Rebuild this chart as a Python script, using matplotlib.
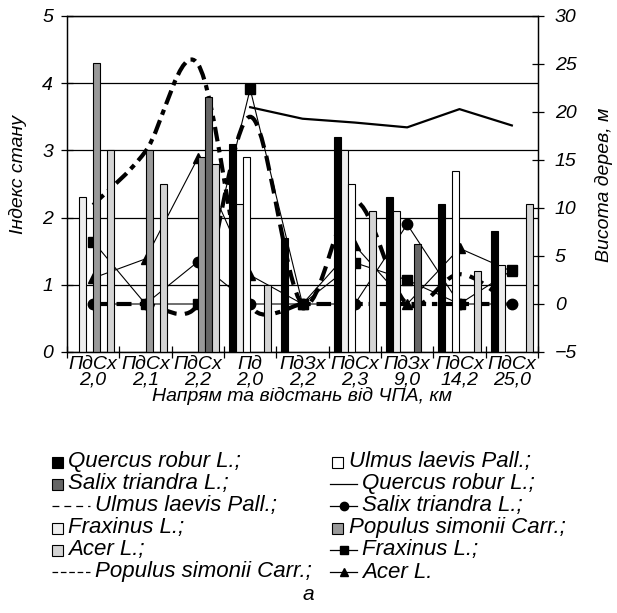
import matplotlib.pyplot as plt
import numpy as np
from matplotlib.path import Path
from matplotlib.patches import PathPatch, Rectangle
from matplotlib.lines import Line2D

plt.rcParams['font.family'] = ['Liberation Sans', 'DejaVu Sans']
plt.rcParams['font.style'] = 'italic'
plt.rcParams['font.size'] = 14

nan = np.nan

# напрям та відстань від ЧПА
sites = ['ПдСх\n2,0', 'ПдСх\n2,1', 'ПдСх\n2,2', 'Пд\n2,0', 'ПдЗх\n2,2',
         'ПдСх\n2,3', 'ПдЗх\n9,0', 'ПдСх\n14,2', 'ПдСх\n25,0']

# індекс стану (стовпчики)
quercus_idx = [nan, nan, nan, 3.1, 1.7, 3.2, 2.3, 2.2, 1.8]
fraxinus_idx = [2.3, nan, nan, 2.2, nan, 3.0, 2.1, nan, 1.3]
ulmus_idx = [nan, nan, nan, 2.9, nan, 2.5, nan, 2.7, nan]
populus_idx = [4.3, 3.0, 2.9, nan, nan, nan, nan, nan, nan]
salix_idx = [nan, nan, 3.8, nan, nan, nan, 1.6, nan, nan]
acer_idx = [3.0, 2.5, 2.8, 1.0, nan, 2.1, nan, 1.2, 2.2]

# висота дерев, м (лінії)
quercus_h = [nan, nan, nan, 20.5, 19.3, 18.9, 18.4, 20.3, 18.6]
ulmus_h = [0, 0, 0, 19.5, 0, 10.7, 0, 3.1, 0]
salix_h = [0, 0, 4.4, 0, 0, 0, 8.3, 0, 0]
fraxinus_h = [6.5, 0, 0, 22.4, 0, 4.3, 2.5, 0, 3.5]
populus_h = [10.3, 15.9, 25.0, 0, 0, 0, 0, 0, 0]
acer_h = [2.7, 4.7, 15.2, 3.0, 0, 6.1, 0, 5.8, 3.4]

x = np.arange(len(sites))

fig = plt.figure(figsize=(6.17, 6.13), dpi=100)
ax = fig.add_axes([67 / 617, 1 - 352 / 613, 471 / 617, 336 / 613])
ax2 = ax.twinx()
ax.set_zorder(ax2.get_zorder() + 1)
ax.patch.set_visible(False)

ax.set_xlim(-0.5, 8.5)
ax.set_ylim(0, 5)
ax2.set_ylim(-5, 30)


def smooth_path(xs, ys, tr):
    # згладжена лінія як в Excel: криві Безьє, контрольні точки рахуються в пікселях
    pts = tr.transform(np.column_stack([xs, ys]))
    n = len(pts)
    verts = [pts[0]]
    codes = [Path.MOVETO]
    for i in range(n - 1):
        p0, p1 = pts[max(i - 1, 0)], pts[i]
        p2, p3 = pts[i + 1], pts[min(i + 2, n - 1)]
        d12 = np.hypot(*(p2 - p1))
        d02 = np.hypot(*(p2 - p0))
        d13 = np.hypot(*(p3 - p1))
        if d02 / 6 < d12 / 2 and d13 / 6 < d12 / 2:
            f = 1 / 3 if i == 0 else 1 / 6
            b1 = p1 + (p2 - p0) * f
            f = 1 / 3 if i + 2 > n - 1 else 1 / 6
            b2 = p2 - (p3 - p1) * f
        elif d02 / 6 >= d12 / 2 and d13 / 6 >= d12 / 2:
            b1 = p1 + (p2 - p0) * d12 / 2 / d02
            b2 = p2 - (p3 - p1) * d12 / 2 / d13
        elif d02 / 6 >= d12 / 2:
            b1 = p1 + (p2 - p0) * d12 / 2 / d02
            b2 = p2 - (p3 - p1) * d12 / 2 / d02
        else:
            b1 = p1 + (p2 - p0) * d12 / 2 / d13
            b2 = p2 - (p3 - p1) * d12 / 2 / d13
        verts += [b1, b2, p2]
        codes += [Path.CURVE4] * 3
    return Path(tr.inverted().transform(np.array(verts)), codes)


# лінії висоти (права вісь)
ax2.plot(x, quercus_h, color='k', lw=1.6)
ax2.plot(x, salix_h, color='k', lw=0.8, marker='o', ms=7.5)
ax2.plot(x, fraxinus_h, color='k', lw=0.8, marker='s', ms=7.5)
ax2.plot(x, acer_h, color='k', lw=0.8, marker='^', ms=7.5)
ax2.add_patch(PathPatch(smooth_path(x, ulmus_h, ax2.transData), fill=False, edgecolor='k',
                        lw=3, ls=(0, (3.6, 2)), capstyle='butt', transform=ax2.transData))
ax2.add_patch(PathPatch(smooth_path(x, populus_h, ax2.transData), fill=False, edgecolor='k',
                        lw=3, ls=(0, (3.5, 1.4, 1.3, 1.4)), capstyle='butt',
                        transform=ax2.transData))

# стовпчики індексу стану (ліва вісь)
w = 0.134
bars = [(quercus_idx, 'black'), (fraxinus_idx, '#eeeeee'), (ulmus_idx, 'white'),
        (populus_idx, '#999999'), (salix_idx, '#666666'), (acer_idx, '#d4d4d4')]
for k, (vals, col) in enumerate(bars):
    ax.bar(x + (k - 2.5) * w, vals, width=w, color=col, edgecolor='k', lw=0.8)

ax.set_yticks(range(6))
ax2.set_yticks(range(-5, 31, 5))
ax.yaxis.grid(True, color='k', lw=0.9)
ax.set_axisbelow(True)

ax.set_xticks(np.arange(-0.5, 9, 1))
ax.set_xticklabels([])
ax.set_xticks(x, minor=True)
ax.set_xticklabels(sites, minor=True, linespacing=0.9)
ax.tick_params(axis='x', which='minor', length=0, pad=3)
ax.tick_params(axis='x', which='major', direction='inout', length=8, width=0.9)
ax.tick_params(axis='y', direction='inout', length=8, width=0.9, pad=6)
ax2.tick_params(axis='y', direction='inout', length=8, width=0.9, pad=8)
for a in (ax, ax2):
    for s in a.spines.values():
        s.set_linewidth(0.9)

ax.set_ylabel('Індекс стану')
ax.yaxis.set_label_coords(-0.085, 0.527)
ax2.set_ylabel('Висота дерев, м')
ax2.yaxis.set_label_coords(1.12, 0.497)
ax.set_xlabel('Напрям та відстань від ЧПА, км', labelpad=-1)

# легенда
lax = fig.add_axes([0, 0, 1, 1])
lax.set_xlim(0, 617)
lax.set_ylim(613, 0)
lax.axis('off')


def sq(xp, yp, col):
    lax.add_patch(Rectangle((xp, yp - 5.5), 11, 11, facecolor=col, edgecolor='k', lw=0.8))


def ln(x0, x1, yp, ls='-', marker=None):
    lax.add_line(Line2D([x0, x1], [yp, yp], color='k', lw=0.9, ls=ls))
    if marker:
        lax.plot((x0 + x1) / 2, yp, marker=marker, color='k', ms=6)


rows = [462, 484, 506, 528, 550, 572]
sq(52, rows[0], 'black')
sq(52, rows[1], '#666666')
ln(52, 90, rows[2], ls=(0, (5.5, 4)))
sq(52, rows[3], '#eeeeee')
sq(52, rows[4], '#d4d4d4')
ln(52, 90, rows[5], ls=(0, (4.5, 2.2)))
col1 = [(68, 'Quercus robur L.;'), (68, 'Salix triandra L.;'), (95, 'Ulmus laevis Pall.;'),
        (68, 'Fraxinus L.;'), (68, 'Acer L.;'), (95, 'Populus simonii Carr.;')]
for (xt, t), yp in zip(col1, rows):
    lax.text(xt, yp, t, va='center', ha='left', fontsize=16)

sq(332, rows[0], 'white')
ln(330, 357, rows[1])
ln(330, 357, rows[2], marker='o')
sq(332, rows[3], '#999999')
ln(330, 357, rows[4], marker='s')
ln(330, 357, rows[5], marker='^')
col2 = [(349, 'Ulmus laevis Pall.;'), (362, 'Quercus robur L.;'), (362, 'Salix triandra L.;'),
        (349, 'Populus simonii Carr.;'), (362, 'Fraxinus L.;'), (362, 'Acer L.')]
for (xt, t), yp in zip(col2, rows):
    lax.text(xt, yp, t, va='center', ha='left', fontsize=16)

lax.text(308, 595, 'а', ha='center', va='center', fontsize=15)

fig.savefig('out.png', dpi=100)
